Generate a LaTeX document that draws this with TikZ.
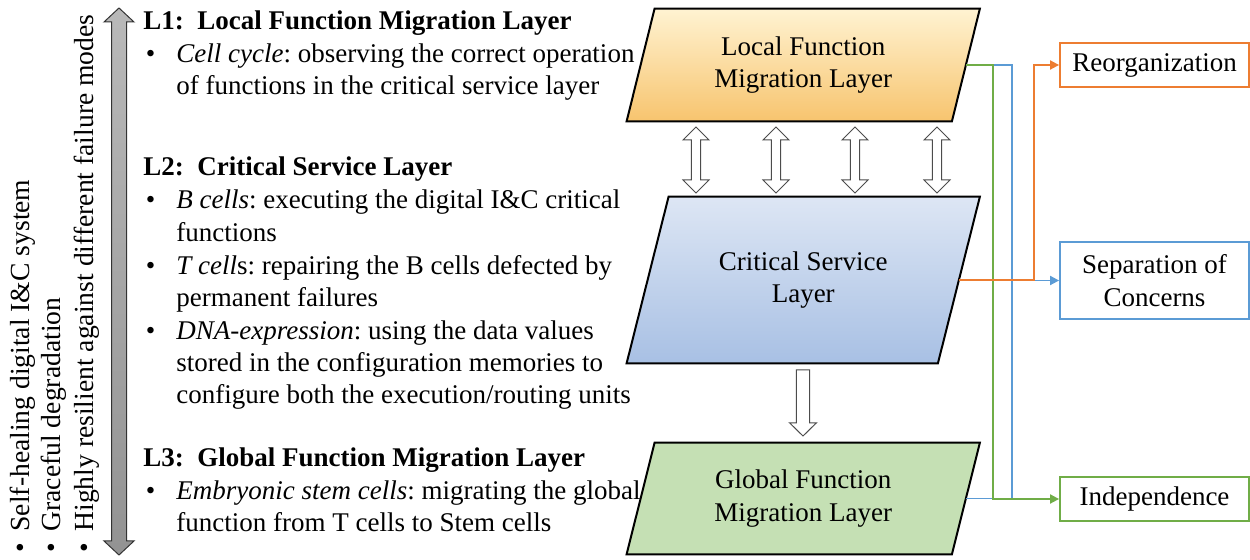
\documentclass[tikz,border=0pt]{standalone}
\usepackage{fontspec}
\setmainfont{Liberation Serif}
\usepackage{tikz}
\usetikzlibrary{calc}
\usetikzlibrary{arrows.meta}
\usetikzlibrary{backgrounds}
\frenchspacing

\definecolor{orgline}{HTML}{ED7D31}
\definecolor{blueline}{HTML}{5B9BD5}
\definecolor{greenline}{HTML}{70AD47}
\definecolor{locTop}{HTML}{FFF3D2}
\definecolor{locBot}{HTML}{F7C46E}
\definecolor{cslTop}{HTML}{DDE6F4}
\definecolor{cslBot}{HTML}{A8C0E4}
\definecolor{globFill}{HTML}{C5E0B4}

\begin{document}
\begin{tikzpicture}[x=0.5pt,y=-0.5pt,
		font=\fontsize{13.5pt}{16.3pt}\selectfont,
		txt/.style={anchor=base west,inner sep=0pt},
		vtxt/.style={txt,rotate=90,font=\fontsize{13.8pt}{16.3pt}\selectfont},
		layer/.style={inner sep=0pt,align=center},
		prop/.style={draw=#1,line width=0.9pt,minimum width=94.5pt,align=center,inner sep=0pt,fill=white},
		link/.style={draw=#1,line width=0.9pt},
		arr/.style={-{Triangle[length=4.5pt,width=4.5pt]}},
		blockarrow/.style={draw=gray!60!black,fill=white,line width=0.5pt}]
		
		\useasboundingbox (0,0) rectangle (1250,560);
		
		% ---- Left gray double arrow ----
		\draw[draw=gray!40!black,line width=0.5pt,top color=gray!55,bottom color=gray!85]
		(119,8) -- (134,22) -- (126.5,22) -- (126.5,541) -- (134,541) -- (119,555)
		-- (104,541) -- (111.5,541) -- (111.5,22) -- (104,22) -- cycle;
		
		% ---- Rotated bullets ----
		\node[vtxt] (heal) at (29,553) {•\hspace{5.75pt}Self-healing digital I\&C system};
		\node[vtxt] (grace) at (61,553) {•\hspace{5.75pt}Graceful degradation};
		\node[vtxt] (resil) at (93,553) {•\hspace{5.75pt}Highly resilient against different failure modes};
		
		% ---- L1 text ----
		\node[txt] (hL1) at (143,30) {\textbf{L1:\ \ Local Function Migration Layer}};
		\node[txt] (b11) at (145.5,63) {•};
		\node[txt] (t11) at (176,63) {\textit{Cell cycle}: observing the correct operation};
		\node[txt] (t12) at (176,95) {of functions in the critical service layer};
		
		% ---- L2 text ----
		\node[txt] (hL2) at (143,176) {\textbf{L2:\ \ Critical Service Layer}};
		\node[txt] (b21) at (145.5,209) {•};
		\node[txt] (t21) at (176,209) {\textit{B cells}: executing the digital I\&C critical};
		\node[txt] (t22) at (176,242) {functions};
		\node[txt] (b22) at (145.5,275) {•};
		\node[txt] (t23) at (176,275) {\textit{T cell}s: repairing the B cells defected by};
		\node[txt] (t24) at (176,307) {permanent failures};
		\node[txt] (b23) at (145.5,340) {•};
		\node[txt] (t25) at (176,340) {\textit{DNA-expression}: using the data values};
		\node[txt] (t26) at (176,372) {stored in the configuration memories to};
		\node[txt] (t27) at (176,404) {configure both the execution/routing units};
		
		% ---- L3 text ----
		\node[txt] (hL3) at (143,467) {\textbf{L3:\ \ Global Function Migration Layer}};
		\node[txt] (b31) at (145.5,500) {•};
		\node[txt] (t31) at (176,500) {\textit{Embryonic stem cells}: migrating the global};
		\node[txt] (t32) at (176,532) {function from T cells to Stem cells};
		
		% ---- Layers (parallelograms) ----
		\node[layer,minimum width=162.25pt,minimum height=56pt] (loc) at (803.25,65) {Local Function\\Migration Layer};
		\node[layer,minimum width=155.25pt,minimum height=83pt] (csl) at (803.25,280) {Critical Service\\Layer};
		\node[layer,minimum width=162.25pt,minimum height=55.5pt] (glob) at (803.25,498.5) {Global Function\\Migration Layer};
		
		\begin{scope}[on background layer]
			\draw[line width=1pt,top color=locTop,bottom color=locBot]
			($(loc.north west)+(14,0)$) -- ($(loc.north east)+(14,0)$) -- ($(loc.south east)-(14,0)$) -- ($(loc.south west)-(14,0)$) -- cycle;
			\draw[line width=1pt,top color=cslTop,bottom color=cslBot]
			($(csl.north west)+(21,0)$) -- ($(csl.north east)+(21,0)$) -- ($(csl.south east)-(21,0)$) -- ($(csl.south west)-(21,0)$) -- cycle;
			\draw[line width=1pt,fill=globFill]
			($(glob.north west)+(14,0)$) -- ($(glob.north east)+(14,0)$) -- ($(glob.south east)-(14,0)$) -- ($(glob.south west)-(14,0)$) -- cycle;
		\end{scope}
		
		% ---- Block arrows between layers ----
		\foreach \x in {696,776,855,937} {
			\draw[blockarrow] (\x,127) -- (\x+13,140) -- (\x+4.7,140) -- (\x+4.7,180) -- (\x+13,180) -- (\x,193)
			-- (\x-13,180) -- (\x-4.7,180) -- (\x-4.7,140) -- (\x-13,140) -- cycle;
		}
		\draw[blockarrow] (796.3,370) -- (809.7,370) -- (809.7,423) -- (816.3,423) -- (803,436)
		-- (789.7,423) -- (796.3,423) -- cycle;
		
		% ---- Properties (right boxes) ----
		\node[prop=orgline,minimum height=22pt] (reorg) at (1154.5,65) {Reorganization};
		\node[prop=blueline,minimum height=38.5pt] (soc) at (1154.5,280.5) {Separation of\\Concerns};
		\node[prop=greenline,minimum height=22pt] (indep) at (1154.5,499) {Independence};
		
		% ---- Bus lines ----
		\coordinate (busG) at (993,0);
		\coordinate (busB) at (1012,0);
		\coordinate (busO) at (1034,0);
		
		\draw[link=blueline] (loc.east) -| (busB |- glob.east) -- (glob.east);
		\draw[link=blueline,arr] (busB |- soc.west) -- (soc.west);
		\draw[link=greenline,arr] (loc.east) -| (busG |- indep.west) -- (indep.west);
		\draw[link=orgline,arr] (csl.east) -| (busO |- reorg.west) -- (reorg.west);
		
	\end{tikzpicture}
\end{document}
